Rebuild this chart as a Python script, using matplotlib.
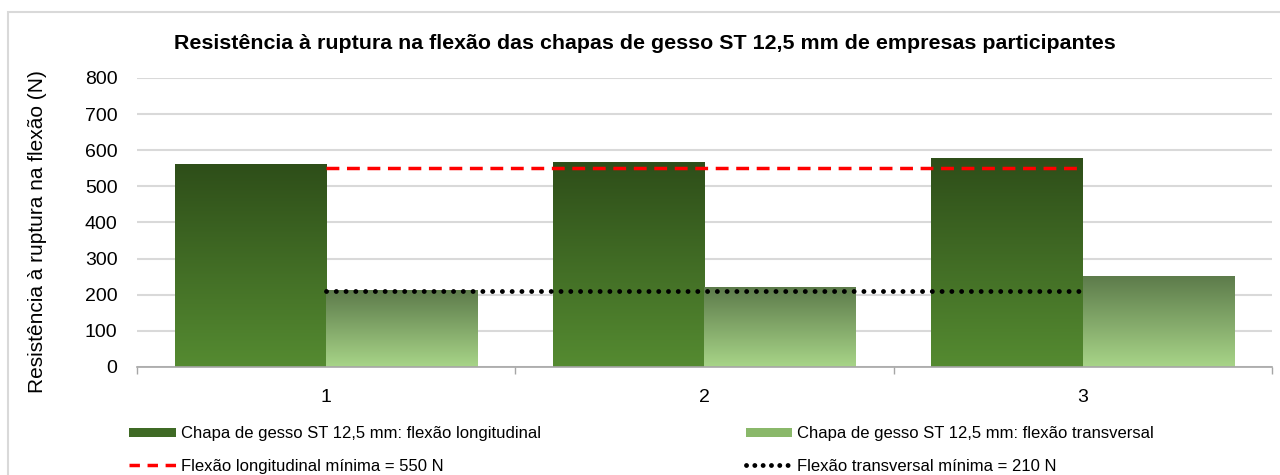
import numpy as np
import matplotlib
matplotlib.use('Agg')
import matplotlib.pyplot as plt
from matplotlib.colors import LinearSegmentedColormap
from matplotlib.patches import Patch, Rectangle
from matplotlib.lines import Line2D

plt.rcParams['font.family'] = ['Liberation Sans', 'DejaVu Sans']

empresas = ['1', '2', '3']
longitudinal = [560, 565, 578]
transversal = [213, 221, 250]
min_longitudinal = 550
min_transversal = 210

titulo = 'Resistência à ruptura na flexão das chapas de gesso ST 12,5 mm de empresas participantes'
ylabel = 'Resistência à ruptura na flexão (N)'
leg_long = 'Chapa de gesso ST 12,5 mm: flexão longitudinal'
leg_trans = 'Chapa de gesso ST 12,5 mm: flexão transversal'
leg_min_long = 'Flexão longitudinal mínima = 550 N'
leg_min_trans = 'Flexão transversal mínima = 210 N'

cmap_long = LinearSegmentedColormap.from_list('long', ['#558b31', '#2e4e19'])
cmap_trans = LinearSegmentedColormap.from_list('trans', ['#a8d588', '#5d7b4b'])

fig = plt.figure(figsize=(12.8, 4.75), dpi=100)
# moldura cinza do grafico
fig.patches.append(Rectangle((8 / 1280, -0.05), 1.1, 1.05 - 12 / 475, transform=fig.transFigure,
                             fill=False, edgecolor='#d9d9d9', linewidth=1.5))
ax = fig.add_axes([0.107, 0.2274, 0.8867, 0.6084])

x = np.arange(1, len(empresas) + 1)
w = 0.4
grad = np.linspace(0, 1, 256).reshape(-1, 1)


def gradient_bar(ax, x0, h, cmap):
    ax.imshow(grad, extent=[x0, x0 + w, 0, h], origin='lower', cmap=cmap,
              aspect='auto', zorder=2, interpolation='bilinear')


for xi, hl, ht in zip(x, longitudinal, transversal):
    gradient_bar(ax, xi - w, hl, cmap_long)
    gradient_bar(ax, xi, ht, cmap_trans)

dash_red = (3.7, 2.2)
dot_black = (0, (0.01, 2.0))
ax.plot(x, [min_longitudinal] * len(x), color='#ff0000', lw=2.5, dashes=dash_red, zorder=3)
ax.plot(x, [min_transversal] * len(x), color='black', lw=3.5, linestyle=dot_black,
        dash_capstyle='round', zorder=3)

ax.set_xlim(0.5, len(empresas) + 0.5)
ax.set_ylim(0, 800)
ax.set_yticks(range(0, 801, 100))
ax.grid(axis='y', color='#d9d9d9', lw=1.5, zorder=0)
ax.set_axisbelow(True)
ax.set_xticks(x)
ax.set_xticklabels(empresas)
ax.set_xticks(np.arange(0.5, len(empresas) + 1, 1), minor=True)
ax.tick_params(axis='x', which='major', length=0, pad=16, labelsize=14)
ax.tick_params(axis='x', which='minor', length=5, color='#a6a6a6', width=1)
ax.tick_params(axis='y', length=0, pad=14, labelsize=14)
for s in ['top', 'right', 'left']:
    ax.spines[s].set_visible(False)
ax.spines['bottom'].set_color('#a6a6a6')
ax.spines['bottom'].set_linewidth(1.2)

ax.set_ylabel(ylabel, fontsize=15)
ax.yaxis.set_label_coords(-0.079, 0.467)
fig.text(0.504, 0.909, titulo, ha='center', va='center', fontsize=15.4, fontweight='bold')

handles = [
    Patch(facecolor='#3f6a25', edgecolor='none'),
    Line2D([], [], color='#ff0000', lw=2.5, dashes=(3, 2.2)),
    Patch(facecolor='#8ab86a', edgecolor='none'),
    Line2D([], [], color='black', lw=3.5, linestyle=(0, (0.01, 1.7)), dash_capstyle='round'),
]
labels = [leg_long, leg_min_long, leg_trans, leg_min_trans]
fig.legend(handles, labels, loc='upper left', bbox_to_anchor=(0.1008, 0.103), ncol=2,
           frameon=False, fontsize=12, handlelength=2.8, handleheight=0.45,
           handletextpad=0.3, columnspacing=12.3, labelspacing=1.05,
           borderpad=0, borderaxespad=0)

fig.savefig('out.png', dpi=100)
